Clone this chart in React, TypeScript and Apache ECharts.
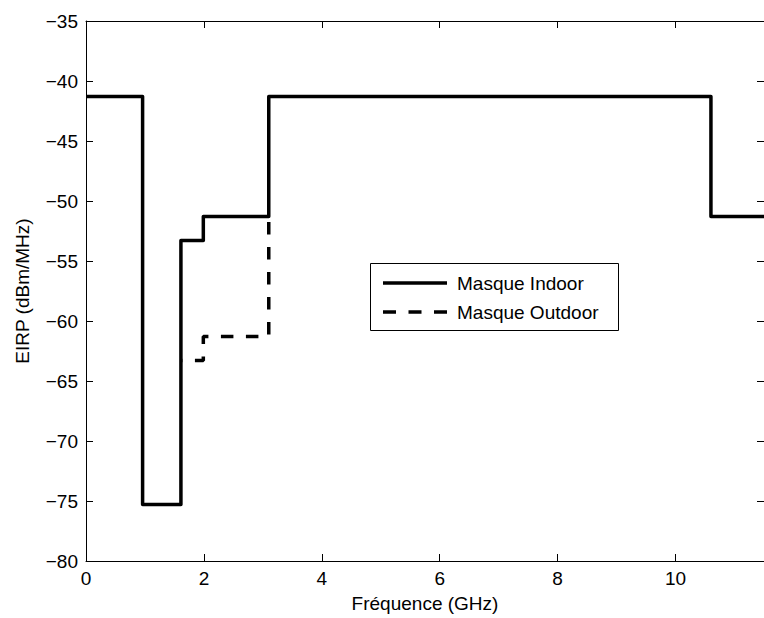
import React, { useEffect, useRef } from "react";
import * as echarts from "echarts";

// Indoor mask: level starts at each breakpoint (step "end")
const indoorFreq = [0, 0.96, 1.61, 1.99, 3.1, 10.6, 11.5];
const indoorLevel = [-41.3, -75.3, -53.3, -51.3, -41.3, -51.3, -51.3];
// Outdoor mask (visible part where it differs from indoor)
const outdoorFreq = [1.61, 1.99, 3.1];
const outdoorLevel = [-63.3, -61.3, -51.3];

const xTicks = [0, 2, 4, 6, 8, 10];
const yMin = -80;
const yMax = -35;
const xMax = 11.5;

const seriesNames = ["Masque Indoor", "Masque Outdoor"];
const FONT = "'Liberation Sans', Arial, Helvetica, sans-serif";
const FS = 19;

export default function App() {
  const ref = useRef<HTMLDivElement>(null);
  useEffect(() => {
    if (!ref.current) return;
    const chart = echarts.init(ref.current, undefined, { renderer: "svg" });
    const fmt = (v: number) => (v < 0 ? "\u2212" + Math.abs(v) : String(v));
    const axisCommon = {
      axisLine: { show: true, onZero: false, lineStyle: { color: "#000", width: 1 } },
      axisTick: { show: true, inside: true, length: 7, lineStyle: { color: "#000", width: 1 } },
      splitLine: { show: false },
    };
    chart.setOption({
      animation: false,
      backgroundColor: "#fff",
      textStyle: { fontFamily: FONT },
      grid: { left: 86, top: 21, width: 690, height: 543 },
      xAxis: [
        {
          type: "value",
          min: 0,
          max: xMax,
          interval: 2,
          position: "bottom",
          ...axisCommon,
          axisLabel: {
            color: "#000",
            fontSize: FS,
            fontFamily: FONT,
            margin: 8,
            showMaxLabel: false,
            formatter: (v: number) => (xTicks.includes(v) ? fmt(v) : ""),
          },
          name: "Fréquence (GHz)",
          nameLocation: "middle",
          nameGap: 33,
          nameTextStyle: { color: "#000", fontSize: FS, fontFamily: FONT },
        },
        {
          type: "value",
          min: 0,
          max: xMax,
          interval: 2,
          position: "top",
          ...axisCommon,
          axisLabel: { show: false },
        },
      ],
      yAxis: [
        {
          type: "value",
          min: yMin,
          max: yMax,
          interval: 5,
          position: "left",
          ...axisCommon,
          axisLabel: {
            color: "#000",
            fontSize: FS,
            fontFamily: FONT,
            margin: 8,
            formatter: fmt,
          },
          name: "EIRP (dBm/MHz)",
          nameLocation: "middle",
          nameGap: 54,
          nameTextStyle: { color: "#000", fontSize: FS, fontFamily: FONT },
        },
        {
          type: "value",
          min: yMin,
          max: yMax,
          interval: 5,
          position: "right",
          ...axisCommon,
          axisLabel: { show: false },
        },
      ],
      series: [
        {
          name: seriesNames[1],
          type: "line",
          step: "end",
          symbol: "none",
          z: 2,
          data: outdoorFreq.map((f, i) => [f, outdoorLevel[i]]),
          lineStyle: { color: "#000", width: 3.5, type: [12.5, 12.5], dashOffset: 10.7, cap: "butt" },
        },
        {
          name: seriesNames[0],
          type: "line",
          step: "end",
          symbol: "none",
          z: 3,
          data: indoorFreq.map((f, i) => [f, indoorLevel[i]]),
          lineStyle: { color: "#000", width: 3.5, type: "solid", join: "round" },
        },
      ],
      graphic: [
        {
          type: "rect",
          z: 10,
          shape: { x: 370.5, y: 263.5, width: 248, height: 67 },
          style: { fill: "#fff", stroke: "#000", lineWidth: 1 },
        },
        {
          type: "line",
          z: 11,
          shape: { x1: 383, y1: 283, x2: 447, y2: 283 },
          style: { stroke: "#000", lineWidth: 3.5 },
        },
        {
          type: "text",
          z: 11,
          x: 457,
          y: 283,
          style: { text: seriesNames[0], fill: "#000", font: `${FS}px ${FONT}`, verticalAlign: "middle" },
        },
        {
          type: "line",
          z: 11,
          shape: { x1: 383, y1: 312, x2: 447, y2: 312 },
          style: { stroke: "#000", lineWidth: 3.5, lineDash: [13, 12.5] },
        },
        {
          type: "text",
          z: 11,
          x: 457,
          y: 312,
          style: { text: seriesNames[1], fill: "#000", font: `${FS}px ${FONT}`, verticalAlign: "middle" },
        },
      ],
    });
    return () => chart.dispose();
  }, []);
  return (
    <div
      ref={ref}
      style={{ position: "fixed", left: 0, top: 0, width: 764, height: 618, background: "#fff" }}
    />
  );
}
